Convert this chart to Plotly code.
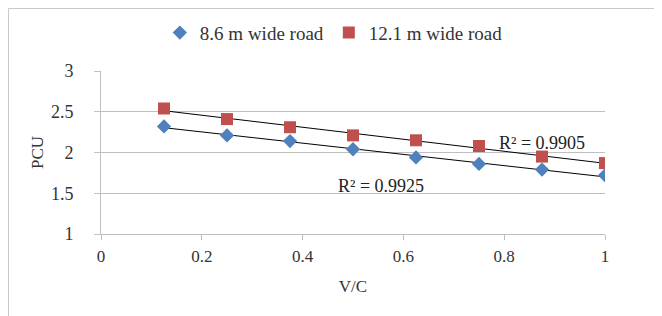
import numpy as np
import plotly.graph_objects as go

vc = [0.125, 0.25, 0.375, 0.5, 0.625, 0.75, 0.875, 1.0]
pcu_86 = [2.32, 2.21, 2.14, 2.04, 1.94, 1.86, 1.79, 1.72]
pcu_121 = [2.54, 2.41, 2.31, 2.21, 2.15, 2.08, 1.95, 1.87]
r2_86 = "R² = 0.9925"
r2_121 = "R² = 0.9905"

FONT = "Liberation Serif, Times New Roman, serif"
x_arr = np.array(vc)

L, T, PW, PH = 93, 63, 504, 163

fig = go.Figure()
for ys in (pcu_86, pcu_121):
    m, c = np.polyfit(x_arr, np.array(ys), 1)
    fig.add_trace(go.Scatter(x=[vc[0], vc[-1]], y=[m * vc[0] + c, m * vc[-1] + c],
                             mode="lines", line=dict(color="#000000", width=1),
                             showlegend=False, hoverinfo="skip"))

fig.add_trace(go.Scatter(x=vc, y=pcu_86, mode="markers", name="8.6 m wide road",
                         marker=dict(symbol="diamond", size=11, color="#4F81BD")))
fig.add_trace(go.Scatter(x=vc, y=pcu_121, mode="markers", name="12.1 m wide road",
                         marker=dict(symbol="square", size=12, color="#C0504D")))

fig.add_annotation(x=0.875, y=2.12, text=r2_121, showarrow=False,
                   font=dict(family=FONT, size=18, color="#222"))
fig.add_annotation(x=0.555, y=1.59, text=r2_86, showarrow=False,
                   font=dict(family=FONT, size=18, color="#222"))

fig.update_layout(
    width=662, height=316,
    margin=dict(l=L, r=662 - L - PW, t=T, b=316 - T - PH, autoexpand=False),
    paper_bgcolor="white", plot_bgcolor="white",
    font=dict(family=FONT, size=17, color="#333"),
    legend=dict(orientation="h", x=0.462, xanchor="center", y=1.235, yanchor="middle",
                font=dict(family=FONT, size=19, color="#333"), itemwidth=30,
                bgcolor="rgba(0,0,0,0)"),
    xaxis=dict(range=[0, 1], tickvals=[0, 0.2, 0.4, 0.6, 0.8, 1],
               ticktext=["0", "0.2", "0.4", "0.6", "0.8", "1"],
               tickfont=dict(family=FONT, size=17, color="#333"), ticklabelstandoff=2,
               showgrid=False, zeroline=False, showline=True, linecolor="#BFBFBF",
               ticks="outside", ticklen=5, tickcolor="#BFBFBF",
               title=dict(text="V/C", font=dict(family=FONT, size=17, color="#333"), standoff=14)),
    yaxis=dict(range=[1, 3], tickvals=[1, 1.5, 2, 2.5, 3],
               ticktext=["1", "1.5", "2", "2.5", "3"],
               tickfont=dict(family=FONT, size=18, color="#333"), ticklabelstandoff=17,
               showgrid=True, gridcolor="#BFBFBF", zeroline=False, showline=True,
               linecolor="#BFBFBF", ticks="outside", ticklen=6, tickcolor="#BFBFBF",
               title=dict(text="PCU", font=dict(family=FONT, size=17, color="#333"), standoff=2)),
    shapes=[
        dict(type="line", xref="paper", yref="paper",
             x0=-(L - 0.5) / PW, x1=-(L - 0.5) / PW, y0=-(316 - T - PH) / PH, y1=1 + (T - 0.5) / PH,
             line=dict(color="#C8C8C8", width=1)),
        dict(type="line", xref="paper", yref="paper",
             x0=-(L - 0.5) / PW, x1=(662 - L) / PW, y0=1 + (T - 0.5) / PH, y1=1 + (T - 0.5) / PH,
             line=dict(color="#C8C8C8", width=1)),
    ],
)

fig.write_html("out.html")
